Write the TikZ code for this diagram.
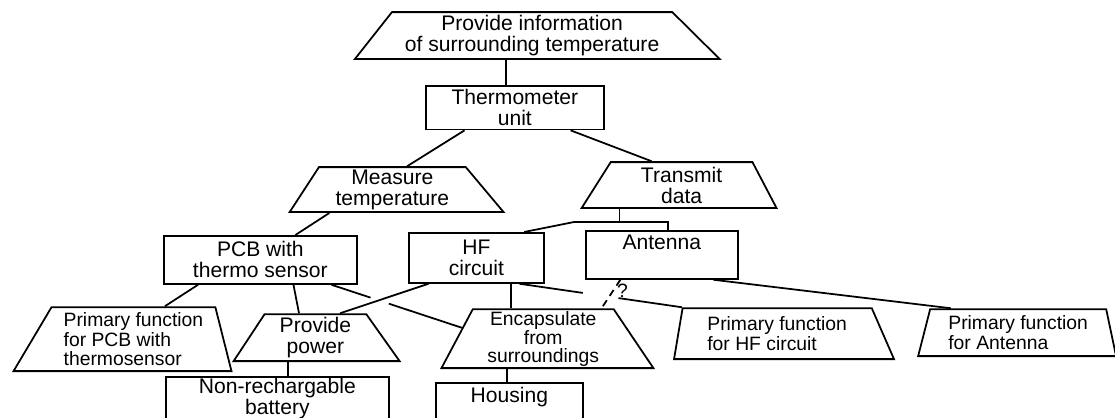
\documentclass[tikz,border=0pt]{standalone}
\usepackage{fontspec}
\setmainfont{Liberation Sans}
\usetikzlibrary{shapes.geometric, calc}

\begin{document}
\begin{tikzpicture}[x=0.02cm, y=-0.02cm, line width=1pt,
  fn/.style={draw, trapezium, trapezium stretches body=true, anchor=bottom left corner,
    inner sep=1pt, align=center, font={\fontsize{12}{12}\selectfont}},
  prim/.style={fn, align=left, font={\fontsize{11}{11}\selectfont}},
  part/.style={draw, rectangle, anchor=north west, inner sep=2pt, align=center,
    font={\fontsize{12}{12}\selectfont}}]

\useasboundingbox (0,0) rectangle (1115,418);

% === Function / part tree ===
% top level
\node[fn, trapezium left angle=50, trapezium right angle=43, minimum width=7.30cm, minimum height=0.94cm]
  (info) at (353,60) {Provide information\\of surrounding temperature};
\node[part, minimum width=3.56cm, minimum height=0.86cm] (thermo) at (425,85) {Thermometer\\unit};

% sub functions
\node[fn, trapezium left angle=56, trapezium right angle=49, minimum width=4.28cm, minimum height=0.90cm]
  (measure) at (288,213) {Measure\\temperature};
\node[fn, trapezium left angle=54, trapezium right angle=59, minimum width=3.90cm, minimum height=0.92cm]
  (transmit) at (580,209) {Transmit\\data};

% parts
\node[part, minimum width=3.86cm, minimum height=0.96cm] (pcb) at (163,235) {PCB with\\thermo sensor};
\node[part, minimum width=2.70cm, minimum height=1.00cm] (hf) at (408,232) {HF\\circuit};
\node[part, minimum width=3.04cm, minimum height=0.96cm, text depth=14pt] (antenna) at (585,230) {Antenna};

% bottom level
\node[prim, trapezium left angle=56, trapezium right angle=74, minimum width=4.36cm, minimum height=1.28cm]
  (primpcb) at (12,372) {Primary function\\for PCB with\\thermosensor};
\node[fn, trapezium left angle=55, trapezium right angle=53, minimum width=3.32cm, minimum height=0.94cm]
  (power) at (232,362) {Provide\\power};
\node[fn, font={\fontsize{11}{10}\selectfont}, trapezium left angle=62, trapezium right angle=56,
  minimum width=4.24cm, minimum height=1.14cm] (encap) at (440,369) {Encapsulate\\from\\surroundings};
\node[prim, trapezium left angle=77, trapezium right angle=59, minimum width=4.40cm, minimum height=1.02cm]
  (primhf) at (673,360) {Primary function\\for HF circuit};
\node[prim, trapezium left angle=72, trapezium right angle=75, minimum width=3.96cm, minimum height=0.94cm]
  (primant) at (917,357) {Primary function\\for Antenna};
\node[part, inner ysep=0.5pt, font={\fontsize{12}{11}\selectfont}, minimum width=4.46cm, minimum height=1.2cm,
  text depth=22pt] (battery) at (165,376) {Non-rechargable\\battery};
\node[part, minimum width=2.94cm, minimum height=1.08cm, text depth=17pt] (housing) at (435,382) {Housing};

% === Connectors ===
\coordinate (a1) at ($(thermo.north west)!0.45!(thermo.north east)$);
\draw (a1) -- (a1 |- info.south);
\draw ($(thermo.south west)!0.22!(thermo.south east)$) -- ($(measure.top left corner)!0.6!(measure.top right corner)$);
\draw ($(thermo.south west)!0.81!(thermo.south east)$) -- ($(transmit.top left corner)!0.29!(transmit.top right corner)$);
\draw ($(measure.bottom left corner)!0.19!(measure.bottom right corner)$) -- ($(pcb.north west)!0.68!(pcb.north east)$);

% fork below transmit data
\coordinate (tx) at ($(transmit.bottom left corner)!0.2!(transmit.bottom right corner)$);
\coordinate (hfin) at ($(hf.north west)!0.85!(hf.north east)$);
\coordinate (antin) at ($(antenna.north west)!0.54!(antenna.north east)$);
\draw (tx) -- ++(0,13) coordinate (fork);
\draw (hfin) -- ++(50,-10) -- (antin |- fork) -- (antin);

% from the PCB
\draw ($(pcb.south west)!0.18!(pcb.south east)$) -- ($(primpcb.top left corner)!0.69!(primpcb.top right corner)$);
\draw ($(pcb.south west)!0.67!(pcb.south east)$) -- ($(power.top left corner)!0.34!(power.top right corner)$);
\coordinate (pcbout) at ($(pcb.south west)!0.865!(pcb.south east)$);
\coordinate (encin) at ($(encap.top left corner)!0.32!(encap.bottom left corner)$);
\draw (pcbout) -- ($(pcbout)!0.3!(encin)$);
\draw ($(pcbout)!0.44!(encin)$) -- (encin);

% from the HF circuit
\draw ($(hf.south west)!0.15!(hf.south east)$) -- ($(power.top left corner)!0.74!(power.top right corner)$);
\coordinate (hfdown) at ($(hf.south west)!0.755!(hf.south east)$);
\draw (hfdown) -- (hfdown |- encap.north);
\coordinate (hfout) at ($(hf.south west)!0.815!(hf.south east)$);
\draw (hfout) -- ($(hfout)!0.39!(primhf.top left corner)$);
\draw ($(hfout)!0.61!(primhf.top left corner)$) -- (primhf.top left corner);

% from the antenna
\draw[dash pattern=on 4pt off 3pt] ($(antenna.south west)!0.23!(antenna.south east)$)
  -- node[right, pos=0.4, inner sep=2pt, font={\fontsize{11}{11}\selectfont}] (query) {?}
  ($(encap.top left corner)!0.91!(encap.top right corner)$);
\draw ($(antenna.south west)!0.835!(antenna.south east)$) -- ($(primant.top left corner)!0.12!(primant.top right corner)$);

% down to the last parts
\coordinate (pw) at ($(power.bottom left corner)!0.33!(power.bottom right corner)$);
\draw (pw) -- (pw |- battery.north);
\coordinate (en) at ($(encap.bottom left corner)!0.31!(encap.bottom right corner)$);
\draw (en) -- (en |- housing.north);

\end{tikzpicture}
\end{document}
